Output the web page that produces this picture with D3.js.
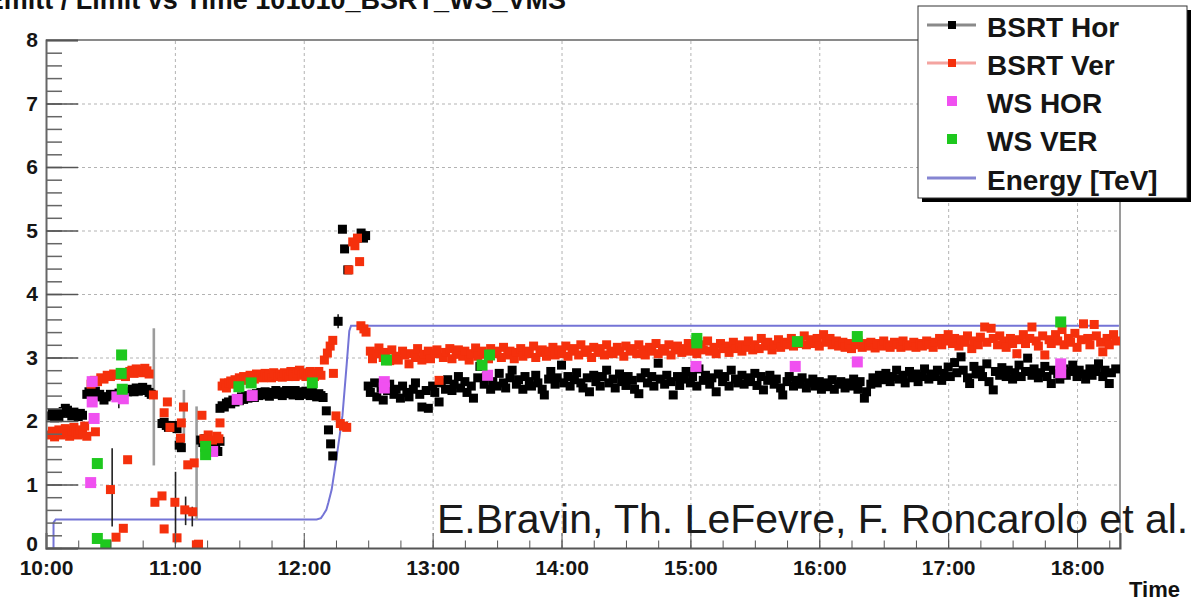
<!DOCTYPE html>
<html>
<head>
<meta charset="utf-8">
<script src="https://cdn.jsdelivr.net/npm/d3@7"></script>
<style>
  body { margin: 0; background: #fff; }
  svg { display: block; }
  text { font-family: "Liberation Sans", Arial, Helvetica, sans-serif; }
</style>
</head>
<body>
<svg id="chart" width="1193" height="604"></svg>
<script>
// Time is given in minutes after 10:00 on the day of the fill.
const yTickValues = [0, 1, 2, 3, 4, 5, 6, 7, 8];
const legendLabels = ["BSRT Hor", "BSRT Ver", "WS HOR", "WS VER", "Energy [TeV]"];

// BSRT horizontal emittance [minute, value]
const bsrtHor = [
  [2,2.08],[3,2.12],[4,2.05],[5,2.1],[6,2.06],[7,2.12],[8,2.15],[9,2.2],[10,2.17],[11,2.12],[12,2.08],[13,2.14],[14,2.1],[15,2.07],[16,2.12],[17,2.09],
  [19,2.42],[20,2.46],[22,2.4],[23,2.47],[25,2.42],[26,2.38],[27,2.33],[28,2.38],[30,2.42],
  [32,2.4],[34,2.44],[36,2.4],[38,2.46],[40,2.5],[41,2.46],[42,2.52],[43,2.47],[44,2.5],[45,2.53],[46,2.48],[47,2.5],[48,2.45],[49,2.42],
  [54,1.96],[55,1.98],[56,1.93],[57,1.9],[59,1.93],[61,1.88],[62,1.62],[63,1.58],
  [72,1.7],[73,1.66],[74,1.72],[75,1.6],[76,1.64],[77,1.56],[78,1.6],[79,1.66],[80,1.52],[81,1.68],
  [81,2.2],[82,2.24],[83,2.22],[84,2.28],[85,2.3],[86,2.27],[87,2.33],[88,2.3],[89,2.35],[90,2.32],[91,2.38],[92,2.34],[93,2.4],[94,2.36],[95,2.38],[96,2.42],[97,2.37],[98,2.43],[99,2.4],[100,2.45],
  [101,2.41],[102,2.46],[103,2.42],[104,2.39],[105,2.45],[106,2.43],[107,2.48],[108,2.42],[109,2.46],[110,2.4],[111,2.45],[112,2.48],[113,2.43],[114,2.46],[115,2.41],[116,2.48],[117,2.44],[118,2.4],[119,2.46],[120,2.43],
  [121,2.47],[122,2.42],[123,2.4],[124,2.45],[125,2.41],[126,2.38],[127,2.43],[128,2.4],[129,2.37],
  [130.5,2.16],[131.5,1.86],[132.5,1.64],[133.5,1.45],
  [136,3.57],[138,5.02],[139,4.71],[140.5,4.38],[146.7,4.96],[147.8,4.88],[148.8,4.92],
  [150,2.55],[151,2.45],[153,2.6],[154,2.38],[156,2.52],[157,2.33],[159,2.48],[160,2.58],[162,2.42],[163,2.5],[165,2.36],[166,2.55],[168,2.45],[169,2.38],[171,2.5],[172,2.6],[174,2.42],[175,2.22],[177,2.48],[178,2.2],
  [180,2.55],[181,2.45],[183,2.3],[184,2.6],[186,2.5],[187,2.65],[189,2.48],[190,2.58],[192,2.7],[193,2.52],[195,2.62],[196,2.45],[198,2.55],[199,2.36],[201,2.68],[202,2.86],[204,2.58],[205,2.7],[207,2.5],[208,2.62],
  [210,2.55],[211,2.75],[213,2.6],[214,2.52],[216,2.68],[217,2.8],[219,2.58],[220,2.65],[222,2.5],[223,2.7],[225,2.62],[226,2.55],[228,2.72],[229,2.6],[231,2.5],[232,2.41],[234,2.66],[235,2.78],[237,2.58],[238,2.68],
  [240,2.88],[241,2.6],[243,2.7],[244,2.55],[246,2.65],[247,2.76],[249,2.6],[250,2.52],[252,2.68],[253,2.46],[255,2.72],[256,2.62],[258,2.55],[259,2.7],[261,2.8],[262,2.6],[264,2.66],[265,2.52],[267,2.74],[268,2.62],
  [270,2.56],[271,2.7],[273,2.64],[274,2.5],[276,2.43],[277,2.68],[279,2.76],[280,2.6],[282,2.7],[283,2.55],[285,2.91],[286,2.66],[288,2.58],[289,2.72],[291,2.62],[292,2.41],[294,2.7],[295,2.56],[297,2.66],[298,2.78],
  [300,2.6],[301,2.7],[303,2.55],[304,2.82],[306,2.64],[307,2.72],[309,2.58],[310,2.68],[312,2.46],[313,2.74],[315,2.62],[316,2.7],[318,2.55],[319,2.8],[321,2.66],[322,2.6],[324,2.72],[325,2.58],[327,2.68],[328,2.62],
  [330,2.75],[331,2.56],[333,2.7],[334,2.49],[336,2.64],[337,2.72],[339,2.58],[340,2.66],[342,2.52],[343,2.41],[345,2.62],[346,2.7],[348,2.55],[349,2.64],[351,2.58],[352,2.68],[354,2.52],[355,2.6],[357,2.66],[358,2.55],
  [360,2.62],[361,2.5],[363,2.6],[364,2.54],[366,2.65],[367,2.5],[369,2.58],[370,2.62],[372,2.52],[373,2.6],[375,2.55],[376,2.66],[378,2.5],[379,2.62],[381,2.36],[382,2.46],[384,2.58],[385,2.68],[387,2.6],[388,2.72],
  [390,2.65],[391,2.75],[393,2.62],[394,2.7],[396,2.8],[397,2.66],[399,2.72],[400,2.6],[402,2.78],[403,2.68],[405,2.74],[406,2.62],[408,2.7],[409,2.82],[411,2.66],[412,2.74],[414,2.7],[415,2.8],[417,2.64],[418,2.75],
  [420,2.85],[421,2.7],[423,2.92],[424,2.76],[426,3.01],[427,2.8],[429,2.68],[430,2.59],[432,2.86],[433,2.74],[435,2.8],[436,2.7],[438,2.9],[439,2.62],[441,2.49],[442,2.78],[444,2.72],[445,2.84],[447,2.7],[448,2.8],
  [450,2.66],[451,2.76],[453,2.88],[454,2.7],[456,2.78],[457,2.99],[459,2.72],[460,2.82],[462,2.68],[463,2.76],[465,2.86],[466,2.7],[468,2.59],[469,2.8],[471,2.74],[472,2.66],[474,2.82],[475,2.72],[477,2.78],[478,2.88],
  [480,2.7],[481,2.8],[483,2.74],[484,2.66],[486,2.82],[487,2.72],[489,2.78],[490,2.9],[492,2.7],[493,2.8],[495,2.59],[496,2.76],[498,2.82]
];

// BSRT vertical emittance [minute, value]
const bsrtVer = [
  [2,1.78],[3,1.84],[4,1.75],[5,1.8],[6,1.86],[7,1.78],[8,1.82],[9,1.88],[10,1.8],[11,1.76],[12,1.85],[13,1.9],[14,1.82],[15,1.78],[16,1.86],[17,1.8],[18,1.92],[19,1.76],[23,1.83],
  [21,2.58],[22.5,2.64],[24,2.62],[25.5,2.68],[27,2.66],[28.5,2.72],[30,2.7],[31.5,2.74],[33,2.72],[35,2.76],[37,2.7],[39,2.78],[40,2.8],[41,2.75],[42,2.82],[43,2.78],[44,2.8],[45,2.76],[46,2.83],[47,2.79],[48,2.74],
  [50,2.41],[55,2.13],[56.5,2.3],[57.7,1.9],[62.6,1.73],[63,1.97],[64,2.22],[66,1.31],[69,1.34],[72.6,2.09],[73.5,1.72],[75.5,1.78],[77.5,1.7],[79.5,1.76],[80.5,1.72],[81,1.97],
  [38,1.39],[30,0.92],[50.7,0.72],[54,0.82],[60,0.72],[64.6,0.6],[68.3,0.57],[32.6,0.17],[36,0.31],[55,0.3],[61,0.16],[70,0.05],[71,0.06],
  [82,2.55],[83,2.6],[84,2.52],[85,2.6],[86,2.63],[87,2.58],[88,2.65],[89,2.62],[90,2.68],[91,2.64],[92,2.7],[93,2.66],[94,2.68],[95,2.72],[96,2.7],[97,2.66],[98,2.74],[99,2.7],[100,2.72],[101,2.68],
  [102,2.75],[103,2.7],[104,2.73],[105,2.68],[106,2.76],[107,2.72],[108,2.7],[109,2.74],[110,2.69],[111,2.76],[112,2.72],[113,2.7],[114,2.78],[115,2.73],[116,2.7],[117,2.75],[118,2.8],[119,2.72],[120,2.76],[121,2.7],
  [122,2.74],[123,2.78],[124,2.72],[125,2.7],[126,2.75],[127,2.78],[128,2.72],
  [129.6,2.96],[131,3.07],[132.3,3.18],[133.5,3.27],[133.8,2.75],[135,2.08],[137,1.96],[138.5,1.92],[140,1.9],
  [141,4.38],[142.8,4.82],[143.8,4.76],[145,4.88],[146,4.51],
  [146.6,3.5],[148,3.45],[149,3.4],
  [151,3.1],[152,2.98],[154,3.06],[155,3.15],[157,3.0],[158,3.08],[160,2.95],[161,3.12],[163,3.02],[164,2.96],[166,3.1],[167,3.04],[169,2.9],[170,3.06],[172,3.0],[173,3.14],[175,2.96],[176,3.05],[178,3.1],[179,2.98],
  [181,3.06],[182,3.12],[183,2.64],[185,3.0],[186,3.08],[188,3.14],[189,2.98],[191,3.05],[192,3.12],[194,3.02],[195,3.1],[197,2.96],[198,3.06],[200,3.15],[201,3.02],[203,3.1],[204,3.05],[206,2.98],[207,3.14],[209,3.06],
  [210,3.1],[212,3.0],[213,3.16],[215,3.04],[216,3.1],[218,2.98],[219,3.08],[221,3.14],[222,3.02],[224,3.1],[225,3.06],[227,3.18],[228,3.0],[230,3.08],[231,3.12],[233,3.02],[234,3.1],[236,3.16],[237,3.04],[239,3.12],
  [240,3.06],[242,3.18],[243,3.02],[245,3.1],[246,3.14],[248,3.04],[249,3.2],[251,3.08],[252,3.12],[254,3.0],[255,3.16],[257,3.08],[258,3.14],[260,3.04],[261,3.2],[263,3.1],[264,3.06],[266,3.16],[267,3.1],[269,3.02],
  [270,3.18],[272,3.1],[273,3.14],[275,3.06],[276,3.2],[278,3.12],[279,3.04],[281,3.16],[282,3.1],[284,3.22],[285,3.06],[287,3.14],[288,3.1],[290,3.2],[291,3.04],[293,3.12],[294,3.18],[296,3.08],[297,3.14],[299,3.22],
  [300,3.1],[302,3.16],[303,3.06],[305,3.2],[306,3.12],[308,3.26],[309,3.1],[311,3.16],[312,3.06],[314,3.22],[315,3.14],[317,3.18],[318,3.08],[320,3.24],[321,3.14],[323,3.2],[324,3.1],[326,3.16],[327,3.26],[329,3.12],
  [330,3.2],[332,3.14],[333,3.3],[335,3.18],[336,3.24],[338,3.12],[339,3.2],[341,3.28],[342,3.16],[344,3.24],[345,3.2],[347,3.3],[348,3.18],[350,3.26],[351,3.22],[353,3.34],[354,3.2],[356,3.28],[357,3.22],[359,3.3],
  [360,3.18],[362,3.36],[363,3.24],[365,3.3],[366,3.2],[368,3.26],[369,3.18],[371,3.24],[372,3.16],[374,3.22],[375,3.14],[377,3.2],[378,3.26],[380,3.16],[381,3.22],[383,3.18],[384,3.24],[386,3.15],[387,3.22],[389,3.18],
  [390,3.26],[392,3.2],[393,3.16],[395,3.24],[396,3.2],[398,3.16],[399,3.26],[401,3.2],[402,3.18],[404,3.24],[405,3.16],[407,3.22],[408,3.18],[410,3.26],[411,3.2],[413,3.16],[414,3.24],[416,3.3],[417,3.2],[419,3.26],
  [420,3.36],[422,3.22],[423,3.3],[425,3.18],[426,3.28],[428,3.24],[429,3.34],[431,3.14],[432,3.26],[434,3.2],[435,3.32],[437,3.48],[438,3.24],[440,3.46],[441,3.3],[443,3.2],[444,3.34],[446,3.26],[447,3.16],[449,3.3],
  [450,3.22],[452,3.06],[453,3.28],[455,3.36],[456,3.22],[458,3.3],[459,3.48],[461,3.26],[462,3.18],[464,3.34],[465,3.04],[467,3.28],[468,3.22],[470,3.36],[471,3.26],[473,3.44],[474,3.2],[476,3.3],[477,3.24],[479,3.38],
  [480,3.16],[482,3.28],[483,3.53],[485,3.3],[486,3.2],[488,3.52],[489,3.34],[491,3.24],[492,3.09],[494,3.3],[495,3.2],[497,3.36],[498,3.26]
];

// Wire scanner measurements [minute, value]
const wsHor = [
  [21.5,2.62],[21.5,2.3],[22.4,2.04],[20.8,1.03],[33,2.38],[36,2.35],[77.6,1.52],[89,2.34],[96,2.4],
  [157.5,2.62],[157.5,2.52],[205.6,2.72],[302.6,2.86],[348.8,2.86],[377.7,2.93],[472.4,2.9],[472.4,2.76]
];
const wsVer = [
  [35.2,3.04],[35,2.75],[35.5,2.5],[23.9,1.33],[23.9,0.15],[27.8,0.05],[74.3,1.6],[74.3,1.47],[89.8,2.54],[95.5,2.6],[124,2.6],
  [158.5,2.96],[203,2.88],[206.5,3.04],[303,3.23],[303,3.3],[349.8,3.25],[377.7,3.33],[472.4,3.56]
];

// Beam energy in TeV [minute, value]
const energy = [
  [3.5,0],[3.5,0.4],[4.5,0.45],[126,0.45],[128,0.47],[129,0.52],[130.5,0.6],[131.5,0.72],[133,0.92],[134.4,1.23],
  [136,1.6],[138,2.08],[140,2.9],[141.2,3.42],[142,3.5],[499.5,3.5]
];

// Error bars on single BSRT readings [minute, low, high, dark?]
const errorBars = [
  [30.8,0.34,1.57,1],[33.9,2.2,2.32,1],[50.2,1.3,3.46,0],[60.3,0.07,1.2,1],[64.2,1.54,2.49,0],
  [65,0.36,0.81,1],[68.1,0.34,0.65,1],[70.1,0.44,2.23,0],[136,3.46,3.68,1]
];

const svg = d3.select("#chart");
const frameL = 46, frameR = 1120, frameT = 40, frameB = 548;
const t0 = new Date(2010, 9, 10, 10, 0);
const toDate = m => new Date(t0.getTime() + m * 60000);

const x = d3.scaleTime().domain([t0, toDate(500)]).range([frameL, frameR]);
const y = d3.scaleLinear().domain([0, 8]).range([frameB, frameT]);

svg.append("defs").append("clipPath").attr("id", "plotclip")
  .append("rect").attr("x", frameL).attr("y", frameT).attr("width", frameR - frameL).attr("height", frameB - frameT);

// dotted grid
const grid = svg.append("g");
grid.append("g").attr("transform", `translate(0,${frameB})`)
  .call(d3.axisBottom(x).ticks(d3.timeHour.every(1)).tickSize(-(frameB - frameT)).tickFormat(""))
  .call(g => g.select(".domain").remove())
  .selectAll("line").attr("stroke", "#b3b3b3").attr("stroke-dasharray", "3,3");
grid.append("g").attr("transform", `translate(${frameL},0)`)
  .call(d3.axisLeft(y).tickValues(yTickValues.slice(1, -1)).tickSize(-(frameR - frameL)).tickFormat(""))
  .call(g => g.select(".domain").remove())
  .selectAll("line").attr("stroke", "#b3b3b3").attr("stroke-dasharray", "3,3");

// frame
svg.append("line").attr("x1", frameL).attr("x2", frameR).attr("y1", frameT).attr("y2", frameT)
  .attr("stroke", "#8a8a8a").attr("stroke-width", 2);
svg.append("line").attr("x1", frameR).attr("x2", frameR).attr("y1", frameT).attr("y2", frameB)
  .attr("stroke", "#9a9a9a").attr("stroke-width", 2);

const plot = svg.append("g").attr("clip-path", "url(#plotclip)");

// energy ramp
plot.append("path").datum(energy)
  .attr("d", d3.line().x(d => x(toDate(d[0]))).y(d => y(d[1])))
  .attr("fill", "none").attr("stroke", "#7474d6").attr("stroke-width", 2);

// error bars
plot.selectAll("line.err").data(errorBars).join("line").attr("class", "err")
  .attr("x1", d => x(toDate(d[0]))).attr("x2", d => x(toDate(d[0])))
  .attr("y1", d => y(d[1])).attr("y2", d => y(d[2]))
  .attr("stroke", d => d[3] ? "#222" : "#9c9c9c").attr("stroke-width", d => d[3] ? 1.6 : 2.6);

function squares(data, size, color) {
  plot.append("g").selectAll("rect").data(data).join("rect")
    .attr("x", d => x(toDate(d[0])) - size / 2)
    .attr("y", d => y(d[1]) - size / 2)
    .attr("width", size).attr("height", size)
    .attr("fill", color);
}
squares(bsrtHor, 9, "#000");
squares(bsrtVer, 9, "#f5300c");
squares(wsHor, 11, "#f050f0");
squares(wsVer, 11, "#1ec81e");

// axes
const fontAxis = g => g.selectAll("text").attr("font-size", 21).attr("font-weight", "bold").attr("fill", "#151515")
  .attr("font-family", "'Liberation Sans', Arial, sans-serif");

svg.append("g").attr("transform", `translate(0,${frameB})`)
  .call(d3.axisBottom(x).ticks(d3.timeMinute.every(15)).tickSize(-7.5).tickFormat(""))
  .call(g => g.select(".domain").remove())
  .selectAll("line").attr("stroke", "#555");
const xAxis = svg.append("g").attr("transform", `translate(0,${frameB})`)
  .call(d3.axisBottom(x).ticks(d3.timeHour.every(1)).tickSize(-15).tickPadding(12).tickFormat(d3.timeFormat("%H:%M")))
  .call(fontAxis);
xAxis.select(".domain").attr("stroke", "#555").attr("stroke-width", 2);
xAxis.selectAll(".tick line").attr("stroke", "#555");

svg.append("g").attr("transform", `translate(${frameL},0)`)
  .call(d3.axisLeft(y).tickValues(d3.range(0, 40).map(i => i / 5)).tickSize(-16).tickFormat(""))
  .call(g => g.select(".domain").remove())
  .selectAll("line").attr("stroke", "#666").attr("stroke-width", 1.5);
const yAxis = svg.append("g").attr("transform", `translate(${frameL},0)`)
  .call(d3.axisLeft(y).tickValues(yTickValues).tickSize(-32).tickPadding(8).tickFormat(d3.format("d")))
  .call(fontAxis);
yAxis.select(".domain").attr("stroke", "#666").attr("stroke-width", 2);
yAxis.selectAll(".tick line").attr("stroke", "#555").attr("stroke-width", 1.5);
// the zero label sits a little higher, as in ROOT's layout
yAxis.selectAll(".tick").filter(d => d === 0).select("text").attr("dy", "0.1em");

// axis title
svg.append("text").attr("x", 1180).attr("y", 597).attr("text-anchor", "end")
  .attr("font-size", 22).attr("font-weight", "bold").attr("fill", "#111").text("Time");

// histogram title (partly above the canvas)
svg.append("text").attr("x", 566).attr("y", 9).attr("text-anchor", "end")
  .attr("font-size", 27).attr("font-weight", "bold").attr("fill", "#111")
  .text("Emitt / Limit vs Time 101010_BSRT_WS_VMS");

// authors
svg.append("text").attr("x", 437).attr("y", 533)
  .attr("font-size", 41).attr("fill", "#1a1a1a").text("E.Bravin, Th. LeFevre, F. Roncarolo et al.");

// legend
const lg = svg.append("g");
lg.append("rect").attr("x", 922).attr("y", 10).attr("width", 269).attr("height", 192).attr("fill", "#000");
lg.append("rect").attr("x", 918).attr("y", 6).attr("width", 269).attr("height", 192)
  .attr("fill", "#fff").attr("stroke", "#333").attr("stroke-width", 1);
const rowY = [25, 63, 101, 139, 178];
const symbols = [
  { line: "#8a8a8a", mark: "#000", size: 8 },
  { line: "#f4a4a0", mark: "#f5300c", size: 8 },
  { line: null, mark: "#f050f0", size: 10 },
  { line: null, mark: "#1ec81e", size: 10 },
  { line: "#8585d2", mark: null, size: 0 }
];
legendLabels.forEach((label, i) => {
  const s = symbols[i], cy = rowY[i];
  if (s.line) lg.append("line").attr("x1", 927).attr("x2", 976).attr("y1", cy).attr("y2", cy)
    .attr("stroke", s.line).attr("stroke-width", 3);
  if (s.mark) lg.append("rect").attr("x", 952 - s.size / 2).attr("y", cy - s.size / 2)
    .attr("width", s.size).attr("height", s.size).attr("fill", s.mark);
  lg.append("text").attr("x", 987).attr("y", cy + 11.5).attr("font-size", 28).attr("font-weight", "bold")
    .attr("fill", "#151515").text(label);
});
</script>
</body>
</html>
